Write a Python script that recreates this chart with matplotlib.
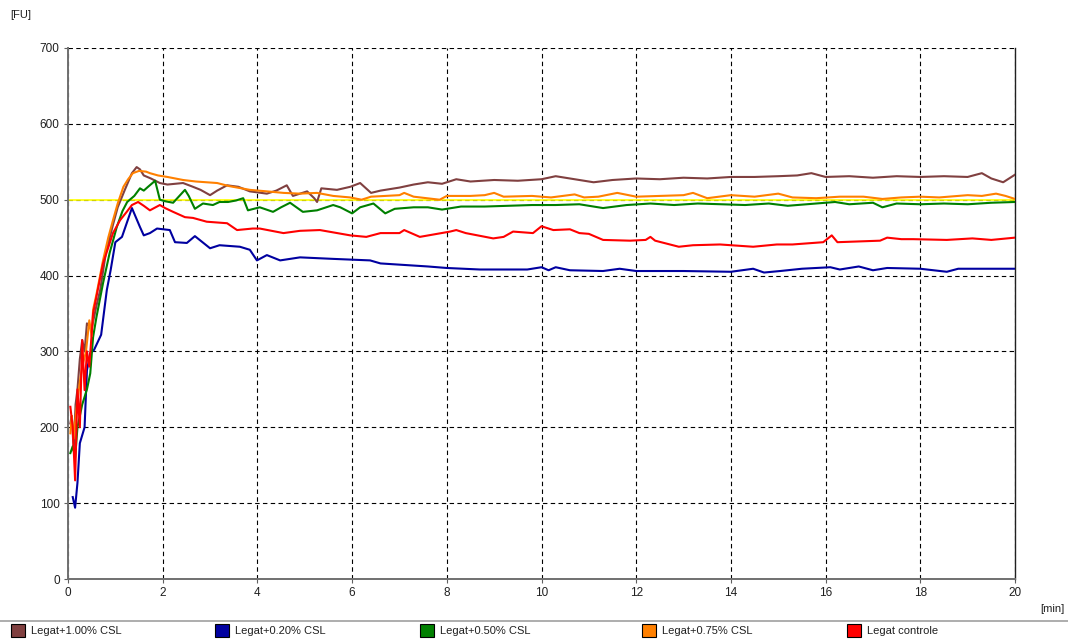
import matplotlib
matplotlib.use("Agg")
import matplotlib.pyplot as plt
from matplotlib.patches import Rectangle
from matplotlib.lines import Line2D

plt.rcParams['font.family'] = ['Liberation Sans', 'DejaVu Sans']

series_names = ["Legat+1.00% CSL", "Legat+0.20% CSL", "Legat+0.50% CSL",
                "Legat+0.75% CSL", "Legat controle"]
series_colors = ["#804040", "#0000A0", "#008000", "#FF8000", "#FF0000"]

brown_t = [0.05, 0.08, 0.12, 0.16, 0.2, 0.25, 0.3, 0.35, 0.4, 0.5, 0.6, 0.68, 0.8,
           0.95, 1.05, 1.2, 1.35, 1.45, 1.52, 1.6, 1.75, 1.94, 2.1, 2.43, 2.64, 2.8,
           3.0, 3.15, 3.36, 3.6, 3.84, 4.2, 4.4, 4.62, 4.75, 5.05, 5.2, 5.26, 5.35,
           5.68, 5.96, 6.17, 6.4, 6.6, 7.0, 7.3, 7.6, 7.9, 8.2, 8.5, 9.0, 9.5, 10.0,
           10.3, 10.6, 11.1, 11.5, 12.0, 12.5, 13.0, 13.5, 14.0, 14.5, 15.0, 15.4,
           15.7, 16.0, 16.5, 17.0, 17.5, 18.0, 18.5, 19.0, 19.3, 19.5, 19.75, 20.0]
brown_v = [205, 215, 170, 230, 250, 290, 315, 300, 337, 330, 360, 381, 430,
           467, 490, 513, 535, 543, 540, 532, 528, 522, 520, 522, 517, 513,
           506, 512, 519, 517, 511, 508, 512, 519, 505, 511, 502, 497, 515,
           513, 517, 522, 509, 512, 516, 520, 523, 521, 527, 524, 526, 525, 527,
           531, 528, 523, 526, 528, 527, 529, 528, 530, 530, 531, 532,
           535, 530, 531, 529, 531, 530, 531, 530, 535, 528, 523, 533]

orange_t = [0.05, 0.08, 0.12, 0.18, 0.25, 0.3, 0.38, 0.45, 0.5, 0.53, 0.6, 0.74,
            0.85, 0.95, 1.05, 1.17, 1.27, 1.37, 1.5, 1.65, 1.73, 1.9, 2.1, 2.43,
            2.7, 3.15, 3.4, 3.84, 4.2, 4.55, 4.9, 5.26, 5.6, 5.96, 6.2, 6.4, 6.7,
            7.0, 7.1, 7.3, 7.85, 8.0, 8.5, 8.8, 9.0, 9.2, 9.8, 10.2, 10.7, 10.9,
            11.2, 11.6, 12.0, 12.5, 13.0, 13.2, 13.5, 14.0, 14.5, 15.0, 15.3,
            15.8, 16.3, 16.8, 17.2, 17.6, 18.0, 18.4, 18.8, 19.0, 19.3, 19.6,
            19.8, 20.0]
orange_v = [192, 215, 185, 225, 260, 280, 300, 341, 320, 355, 375, 420,
            450, 473, 495, 517, 527, 535, 538, 537, 535, 532, 530, 526,
            524, 522, 518, 513, 511, 509, 508, 509, 505, 503, 500, 504, 505,
            506, 509, 504, 500, 505, 505, 506, 509, 504, 505, 503, 507, 503,
            504, 509, 504, 505, 506, 509, 502, 506, 504, 508, 503,
            502, 504, 504, 501, 503, 504, 503, 505, 506, 505, 508,
            505, 501]

green_t = [0.05, 0.1, 0.15, 0.2, 0.3, 0.4, 0.47, 0.53, 0.6, 0.74, 0.88, 1.03,
           1.15, 1.25, 1.4, 1.52, 1.6, 1.69, 1.84, 1.94, 2.05, 2.22, 2.47, 2.55,
           2.68, 2.85, 3.06, 3.2, 3.38, 3.55, 3.7, 3.8, 4.05, 4.33, 4.5, 4.69,
           4.96, 5.26, 5.6, 5.75, 6.0, 6.17, 6.45, 6.7, 6.9, 7.3, 7.6, 7.9, 8.3,
           8.8, 9.3, 9.8, 10.3, 10.8, 11.3, 11.8, 12.3, 12.8, 13.3, 13.8, 14.3,
           14.8, 15.2, 15.6, 16.2, 16.5, 17.0, 17.2, 17.5, 18.0, 18.5, 19.0,
           19.5, 20.0]
green_v = [166, 175, 160, 200, 230, 250, 271, 319, 345, 390, 430, 464,
           485, 497, 505, 515, 512, 517, 525, 500, 498, 496, 513, 505,
           488, 495, 493, 497, 497, 499, 502, 486, 490, 484, 490, 496,
           484, 486, 493, 490, 482, 490, 495, 482, 488, 490, 490, 487, 491,
           491, 492, 493, 493, 494, 489, 493, 495, 493, 495, 494, 493,
           495, 492, 494, 497, 494, 496, 490, 495, 494, 495, 494,
           496, 497]

red_t = [0.05, 0.1, 0.15, 0.2, 0.25, 0.3, 0.35, 0.4, 0.45, 0.53, 0.74, 0.95,
         1.1, 1.24, 1.35, 1.48, 1.6, 1.73, 1.94, 2.05, 2.22, 2.47, 2.64, 2.93,
         3.36, 3.57, 3.9, 4.05, 4.55, 4.9, 5.32, 5.96, 6.3, 6.6, 7.0, 7.1, 7.43,
         8.07, 8.2, 8.4, 8.98, 9.2, 9.4, 9.82, 10.0, 10.25, 10.6, 10.8, 11.0,
         11.3, 11.87, 12.2, 12.3, 12.4, 12.9, 13.2, 13.77, 14.47, 14.97, 15.3,
         15.95, 16.13, 16.25, 17.15, 17.3, 17.6, 17.85, 18.56, 19.1, 19.5, 20.0]
red_v = [227, 200, 130, 250, 200, 315, 249, 300, 280, 350, 416, 456,
         473, 484, 493, 497, 492, 486, 493, 489, 484, 477, 476, 471,
         469, 460, 462, 462, 456, 459, 460, 453, 451, 456, 456, 460, 451,
         458, 460, 456, 449, 451, 458, 456, 465, 460, 461, 456, 455,
         447, 446, 447, 451, 446, 438, 440, 441, 438, 441, 441,
         444, 453, 444, 446, 450, 448, 448, 447, 449, 447, 450]

blue_t = [0.1, 0.15, 0.2, 0.25, 0.35, 0.4, 0.47, 0.55, 0.7, 0.82, 0.9, 1.0,
          1.14, 1.35, 1.52, 1.6, 1.73, 1.88, 2.15, 2.26, 2.51, 2.68, 3.0, 3.2,
          3.63, 3.84, 3.99, 4.2, 4.48, 4.9, 5.6, 6.38, 6.6, 7.6, 8.0, 8.7, 9.7,
          10.0, 10.15, 10.3, 10.6, 11.3, 11.65, 12.0, 13.0, 14.0, 14.47, 14.7,
          15.04, 15.5, 16.1, 16.3, 16.7, 17.0, 17.3, 18.0, 18.56, 18.8, 20.0]
blue_v = [108, 94, 127, 179, 200, 275, 298, 302, 322, 381, 407, 444,
          451, 489, 464, 453, 456, 462, 460, 444, 443, 452, 436, 440,
          438, 434, 420, 427, 420, 424, 422, 420, 416, 412, 410, 408, 408,
          411, 407, 411, 407, 406, 409, 406, 406, 405, 409, 404,
          406, 409, 411, 408, 412, 407, 410, 409, 405, 409, 409]

reference_value = 500
x_ticks = [0, 2, 4, 6, 8, 10, 12, 14, 16, 18, 20]
y_ticks = [0, 100, 200, 300, 400, 500, 600, 700]

series_t = [brown_t, blue_t, green_t, orange_t, red_t]
series_v = [brown_v, blue_v, green_v, orange_v, red_v]

W, H = 1068, 639
fig = plt.figure(figsize=(W / 100, H / 100), dpi=100)
fig.patch.set_facecolor("white")
ax = fig.add_axes([68 / W, (H - 579) / H, (1015 - 68) / W, (579 - 48) / H])

ax.set_xlim(0, 20)
ax.set_ylim(0, 700)
ax.set_xticks(x_ticks)
ax.set_yticks(y_ticks)
ax.set_xticklabels([str(v) for v in x_ticks])
ax.set_yticklabels([str(v) for v in y_ticks])
ax.tick_params(axis="both", labelsize=8.5, length=3, width=0.8, color="#606060",
               labelcolor="#202020", pad=3)

ax.grid(True, color="black", linestyle=(0, (4, 3)), linewidth=0.8)
ax.set_axisbelow(True)
for s in ["left", "bottom"]:
    ax.spines[s].set_color("#707070")
    ax.spines[s].set_linewidth(1.4)
    ax.spines[s].set_zorder(5)
ax.spines["right"].set_color("#202020")
ax.spines["right"].set_linewidth(1.0)
ax.spines["top"].set_visible(False)

ax.plot([0, 20], [reference_value, reference_value], color="#FFFF00", lw=1.2, zorder=2)

draw_order = [1, 4, 2, 0, 3]
for i in draw_order:
    ax.plot(series_t[i], series_v[i], color=series_colors[i], lw=1.5, zorder=3 + i * 0.01)

fig.text(10 / W, 1 - 15 / H, "[FU]", fontsize=8, va="center", ha="left", color="#202020")
fig.text(1040 / W, 1 - 609 / H, "[min]", fontsize=8, va="center", ha="left", color="#202020")

# legend strip
fig.add_artist(Line2D([0, 1], [1 - 621 / H, 1 - 621 / H], color="#A0A0A0", lw=1.2,
                      transform=fig.transFigure))
leg_x = [11, 215, 420, 642, 847]
for i, name in enumerate(series_names):
    x0 = leg_x[i]
    fig.add_artist(Rectangle((x0 / W, 1 - 637 / H), 14 / W, 13 / H,
                             facecolor=series_colors[i], edgecolor="black", lw=0.8,
                             transform=fig.transFigure))
    fig.text((x0 + 20) / W, 1 - 631 / H, name, fontsize=8, va="center", ha="left",
             color="#202020")

fig.savefig("out.png", dpi=100, facecolor="white")
